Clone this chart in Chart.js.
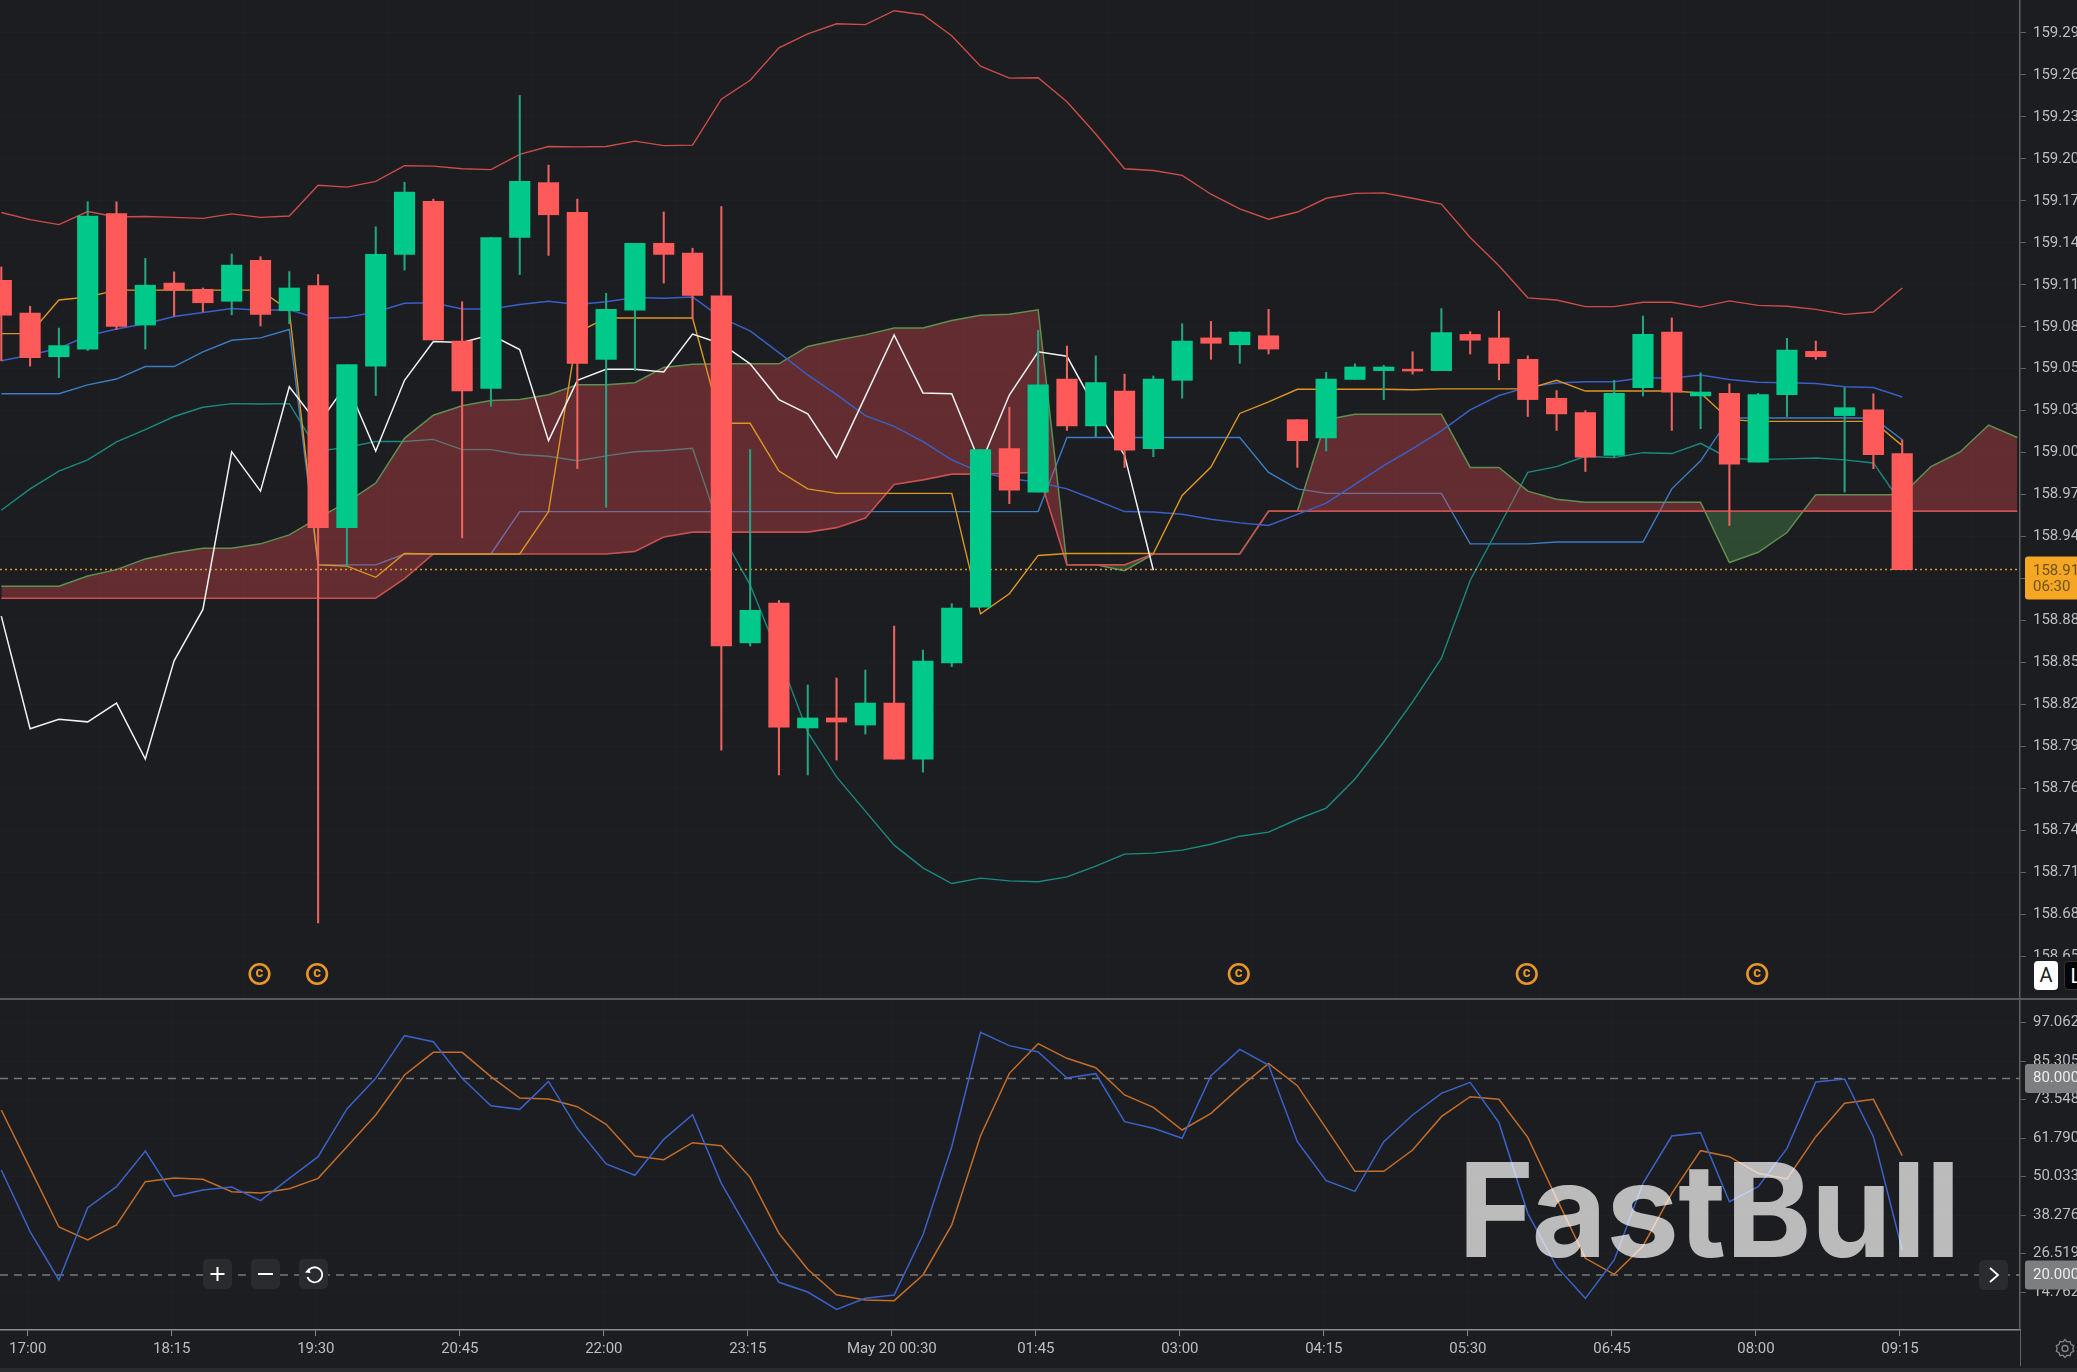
<!DOCTYPE html>
<html>
<head>
<meta charset="utf-8">
<title>USDJPY 15m</title>
<script src="https://cdn.jsdelivr.net/npm/chart.js@4"></script>
<style>
html, body { margin: 0; padding: 0; background: #1c1d21; overflow: hidden; }
#wrap { position: relative; width: 2077px; height: 1372px; overflow: hidden; font-family: Roboto, sans-serif; }
canvas { position: absolute; left: 0; }
#priceChart { top: 0; }
#stochChart { top: 999px; }
.divider { position: absolute; left: 0; top: 998px; width: 2077px; height: 2px; background: #58595d; }
.axisFoot { position: absolute; left: 2019.5px; top: 1330px; width: 1px; height: 36px; background: #5f6165; }
.strip { position: absolute; left: 0; top: 1368px; width: 2077px; height: 4px; background: #2a2b2f; }
.logo { position: absolute; left: 1458px; top: 1135px; font: 700 130px/150px Inter, sans-serif; letter-spacing: -0.7px; color: rgba(255,255,255,0.7); }
.btn { position: absolute; width: 29px; height: 30px; border-radius: 5px; background: #2a2b2f; }
.btn svg { position: absolute; left: 0; top: 0; }
.scaleBtn { position: absolute; top: 961px; width: 24px; height: 29px; border-radius: 4px; font-size: 20px; line-height: 29px; text-align: center; }
.gear { position: absolute; left: 2054px; top: 1337px; }
</style>
</head>
<body>
<div id="wrap">
  <canvas id="priceChart" width="2077" height="999"></canvas>
  <canvas id="stochChart" width="2077" height="369"></canvas>
  <div class="divider"></div>
  <div class="axisFoot"></div>
  <div class="strip"></div>
  <div class="logo">FastBull</div>
  <div class="scaleBtn" style="left:2034px;background:#fff;color:#222">A</div>
  <div class="scaleBtn" style="left:2064px;background:#050505;color:#fff;border:1px solid #333;box-sizing:border-box">L</div>
  <div class="btn" style="left:203px;top:1259px"><svg width="29" height="30"><path d="M14.5 8v14M7.5 15h14" stroke="#fff" stroke-width="2"/></svg></div>
  <div class="btn" style="left:251px;top:1259px"><svg width="29" height="30"><path d="M7 15h15" stroke="#fff" stroke-width="2"/></svg></div>
  <div class="btn" style="left:299px;top:1259px"><svg width="29" height="30"><path d="M9.5 11.5a7.5 7.5 0 1 1 -1 6.5" fill="none" stroke="#fff" stroke-width="1.8"/><path d="M6 13.5l5.5 0.5-1.5-5z" fill="#fff"/></svg></div>
  <div class="btn" style="left:1979px;top:1260px"><svg width="29" height="30"><path d="M11 8l8 7-8 7" fill="none" stroke="#fff" stroke-width="1.8"/></svg></div>
  <svg class="gear" width="22" height="22" viewBox="0 0 22 22"><path d="M11 2.5l2 2.4 3-.5 1 3 2.7 1.4-.9 2.9.9 2.6-2.7 1.5-1 2.9-3-.5-2 2.3-2-2.3-3 .5-1-2.9-2.7-1.5.9-2.6-.9-2.9 2.7-1.4 1-3 3 .5z" fill="none" stroke="#85878b" stroke-width="1.3"/><circle cx="11" cy="11.5" r="3" fill="none" stroke="#85878b" stroke-width="1.3"/></svg>
</div>
<script>
// candles, 15 min bars
var opens = [159.1191,159.0965,159.0663,159.0716,159.1653,159.0882,159.1172,159.1129,159.1046,159.1329,159.0981,159.1154,158.9482,159.0598,159.1370,159.1737,159.0771,159.0444,159.1487,159.1866,159.1660,159.0645,159.0984,159.1447,159.1379,159.1083,158.8686,158.8960,158.8098,158.8167,158.8118,158.8270,158.7883,158.8547,158.8932,159.0028,158.9728,159.0509,159.0185,159.0426,159.0028,159.0500,159.0793,159.0746,159.0808,159.0228,159.0102,159.0506,159.0567,159.0577,159.0567,159.0817,159.0793,159.0645,159.0376,159.0277,158.9981,159.0450,159.0833,159.0392,159.0410,158.9935,159.0401,159.0700,159.0256,159.0296,158.9994]
var highs = [159.1283,159.1012,159.0861,159.1734,159.1734,159.1342,159.1249,159.1138,159.1373,159.1354,159.1252,159.1231,159.0608,159.1561,159.1869,159.1752,159.1043,159.1487,159.2468,159.1987,159.1752,159.1101,159.1447,159.1663,159.1413,159.1700,159.0021,158.8979,158.8395,158.8443,158.8498,158.8802,158.8636,158.8957,159.0021,159.0314,159.0845,159.0737,159.0669,159.0543,159.0530,159.0891,159.0907,159.0836,159.0990,159.0228,159.0555,159.0614,159.0604,159.0697,159.0996,159.0836,159.0978,159.0669,159.0429,159.0290,159.0500,159.0944,159.0931,159.0552,159.0475,159.0410,159.0790,159.0771,159.0450,159.0407,159.0089]
var lows = [159.0635,159.0598,159.0518,159.0706,159.0851,159.0716,159.0944,159.0975,159.0953,159.0876,159.0891,158.6750,158.9216,159.0395,159.1262,159.0780,158.9411,159.0321,159.1231,159.1363,158.9889,158.9623,159.0567,159.1172,159.0931,158.7945,158.8664,158.7773,158.7773,158.7876,158.8056,158.7883,158.7793,158.8522,158.8932,158.9648,158.9728,159.0154,159.0111,158.9898,158.9972,159.0376,159.0645,159.0617,159.0682,158.9898,159.0012,159.0506,159.0367,159.0543,159.0567,159.0682,159.0503,159.0250,159.0154,158.9870,158.9966,159.0392,159.0154,159.0166,158.9497,158.9935,159.0250,159.0645,158.9728,158.9889,158.9192]
var closes = [159.0950,159.0657,159.0740,159.1635,159.0873,159.1157,159.1123,159.1036,159.1296,159.0956,159.1138,158.9482,159.0608,159.1370,159.1801,159.0780,159.0426,159.1487,159.1875,159.1644,159.0617,159.0990,159.1447,159.1370,159.1086,158.8664,158.8911,158.8104,158.8167,158.8139,158.8270,158.7883,158.8560,158.8927,159.0021,158.9741,159.0469,159.0185,159.0484,159.0018,159.0509,159.0771,159.0756,159.0833,159.0716,159.0083,159.0509,159.0592,159.0592,159.0564,159.0830,159.0777,159.0617,159.0367,159.0268,158.9969,159.0410,159.0817,159.0419,159.0419,158.9920,159.0401,159.0709,159.0663,159.0311,158.9987,158.9192]

// bollinger bands
var bbUpper = [159.1660,159.1610,159.1576,159.1666,159.1629,159.1632,159.1626,159.1619,159.1650,159.1626,159.1635,159.1848,159.1835,159.1875,159.1983,159.1980,159.1962,159.1956,159.2061,159.2116,159.2113,159.2116,159.2153,159.2122,159.2125,159.2443,159.2573,159.2798,159.2894,159.2964,159.2958,159.3054,159.3026,159.2881,159.2671,159.2588,159.2591,159.2425,159.2202,159.1962,159.1950,159.1916,159.1786,159.1684,159.1613,159.1663,159.1758,159.1792,159.1795,159.1758,159.1718,159.1487,159.1292,159.1070,159.1055,159.1009,159.1009,159.1039,159.1039,159.1006,159.1049,159.1018,159.1012,159.0990,159.0956,159.0972,159.1138]
var bbMid = [159.0635,159.0675,159.0722,159.0808,159.0854,159.0891,159.0941,159.0968,159.0996,159.0984,159.0987,159.0928,159.0935,159.0972,159.1033,159.1036,159.0993,159.0993,159.1024,159.1046,159.1024,159.1043,159.1073,159.1067,159.1076,159.0931,159.0842,159.0691,159.0537,159.0401,159.0256,159.0182,159.0077,158.9950,158.9864,158.9821,158.9796,158.9750,158.9673,158.9593,158.9590,158.9574,158.9540,158.9515,158.9497,158.9574,158.9651,158.9781,158.9910,159.0028,159.0151,159.0296,159.0395,159.0453,159.0481,159.0490,159.0490,159.0518,159.0515,159.0537,159.0506,159.0487,159.0484,159.0478,159.0456,159.0450,159.0385]
var bbLower = [158.9602,158.9750,158.9873,158.9950,159.0074,159.0160,159.0250,159.0314,159.0339,159.0336,159.0339,159.0012,159.0037,159.0077,159.0077,159.0092,159.0021,159.0021,158.9987,158.9975,158.9944,158.9978,159.0006,159.0015,159.0031,158.9441,158.9087,158.8593,158.8069,158.7760,158.7523,158.7288,158.7131,158.7023,158.7060,158.7041,158.7035,158.7069,158.7143,158.7226,158.7233,158.7254,158.7294,158.7350,158.7378,158.7467,158.7544,158.7745,158.8001,158.8278,158.8578,158.9117,158.9488,158.9864,158.9904,158.9975,158.9966,159.0000,158.9994,159.0065,158.9960,158.9953,158.9957,158.9963,158.9950,158.9929,158.9642]

// ichimoku
var tenkan = [159.0823,159.0823,159.1055,159.1076,159.1123,159.1123,159.1123,159.1123,159.1123,159.1123,159.0981,158.9225,158.9216,158.9139,158.9303,158.9300,158.9300,158.9300,158.9300,158.9593,159.0830,159.0931,159.0931,159.0931,159.0931,159.0203,159.0203,158.9873,158.9750,158.9719,158.9719,158.9719,158.9719,158.9719,158.8886,158.9025,158.9290,158.9303,158.9303,158.9303,158.9303,158.9704,158.9901,159.0271,159.0351,159.0438,159.0438,159.0438,159.0438,159.0435,159.0441,159.0441,159.0441,159.0441,159.0500,159.0426,159.0426,159.0426,159.0426,159.0413,159.0228,159.0216,159.0216,159.0216,159.0216,159.0216,159.0049]
var kijun = [159.0407,159.0407,159.0407,159.0469,159.0509,159.0595,159.0595,159.0697,159.0777,159.0793,159.0851,158.9225,158.9225,158.9225,158.9300,158.9300,158.9300,158.9300,158.9593,158.9593,158.9593,158.9593,158.9593,158.9593,158.9593,158.9593,158.9593,158.9593,158.9593,158.9593,158.9593,158.9593,158.9593,158.9593,158.9593,158.9593,158.9593,159.0105,159.0105,159.0105,159.0105,159.0105,159.0105,159.0105,158.9864,158.9750,158.9719,158.9719,158.9719,158.9719,158.9719,158.9370,158.9370,158.9370,158.9383,158.9383,158.9383,158.9383,158.9750,158.9944,159.0240,159.0240,159.0240,159.0240,159.0240,159.0240,159.0089]
var chikou = [158.8871,158.8093,158.8158,158.8140,158.8269,158.7883,158.8562,158.8917,159.0006,158.9734,159.0456,159.0197,159.0475,159.0012,159.0500,159.0768,159.0762,159.0814,159.0712,159.0083,159.0500,159.0577,159.0577,159.0558,159.0820,159.0753,159.0614,159.0367,159.0268,158.9966,159.0389,159.0814,159.0413,159.0407,158.9920,159.0398,159.0697,159.0666,159.0305,158.9981,158.9188]
var spanA = [158.9077,158.9077,158.9077,158.9148,158.9192,158.9266,158.9309,158.9340,158.9340,158.9370,158.9432,158.9549,158.9657,158.9790,159.0099,159.0259,159.0324,159.0361,159.0367,159.0401,159.0469,159.0469,159.0484,159.0589,159.0611,159.0614,159.0614,159.0614,159.0734,159.0777,159.0814,159.0861,159.0861,159.0913,159.0950,159.0956,159.0987,158.9225,158.9225,158.9185,158.9300,158.9300,158.9300,158.9300,158.9596,158.9596,159.0228,159.0265,159.0265,159.0265,159.0265,158.9898,158.9898,158.9734,158.9679,158.9657,158.9657,158.9657,158.9657,158.9657,158.9241,158.9312,158.9448,158.9710,158.9710,158.9710,158.9710,158.9904,159.0003,159.0191,159.0105]
var spanB = [158.8994,158.8994,158.8994,158.8994,158.8994,158.8994,158.8994,158.8994,158.8994,158.8994,158.8994,158.8994,158.8994,158.8994,158.9130,158.9300,158.9300,158.9300,158.9300,158.9300,158.9300,158.9300,158.9318,158.9417,158.9451,158.9451,158.9451,158.9451,158.9451,158.9482,158.9549,158.9781,158.9812,158.9852,158.9852,158.9858,158.9864,158.9225,158.9225,158.9225,158.9300,158.9300,158.9300,158.9300,158.9596,158.9596,158.9596,158.9596,158.9596,158.9596,158.9596,158.9596,158.9596,158.9596,158.9596,158.9596,158.9596,158.9596,158.9596,158.9596,158.9596,158.9596,158.9596,158.9596,158.9596,158.9596,158.9596,158.9596,158.9596,158.9596,158.9596]

// stochastic pane
var stochK = [52.08,33.24,18.48,40.57,46.99,57.88,44.03,45.97,46.89,42.71,49.53,56.15,70.71,80.07,93.10,91.27,80.07,71.72,70.60,79.15,64.80,53.91,50.45,61.44,68.97,48.00,32.73,17.77,14.82,9.52,12.88,13.90,32.22,59.20,94.12,90.05,88.11,80.17,81.50,66.84,64.80,61.75,80.89,88.93,84.14,60.73,48.82,45.56,60.73,68.87,75.49,78.85,66.53,38.84,22.55,12.88,24.59,48.00,62.46,63.48,42.40,46.99,58.69,78.95,79.87,62.26,27.65]
var stochD = [70.40,52.58,34.67,30.70,35.28,48.51,49.63,49.22,45.46,45.05,46.38,49.53,59.20,68.87,81.09,88.01,88.01,80.58,74.07,73.76,71.42,66.02,56.35,55.23,60.42,59.51,49.84,32.73,21.74,13.99,12.37,12.17,20.01,35.28,62.56,81.60,90.66,86.18,83.33,75.00,71.21,64.29,69.38,77.32,84.65,77.83,64.80,51.67,51.67,58.19,68.37,74.47,73.66,62.05,43.42,25.10,20.21,28.87,44.95,57.98,56.15,51.06,49.33,62.26,72.44,73.66,56.45]
var stochLevels = [80, 20]

// axis labels
var priceTicks = [159.29,159.261,159.232,159.203,159.174,159.145,159.116,159.087,159.058,159.029,159.0,158.971,158.942,158.913,158.884,158.855,158.826,158.797,158.768,158.739,158.71,158.681,158.652]
var priceTickLabels = ['159.29','159.26','159.23','159.20','159.17','159.14','159.11','159.08','159.05','159.03','159.00','158.97','158.94','158.91','158.88','158.85','158.82','158.79','158.76','158.74','158.71','158.68','158.65']
var stochTicks = [97.062,85.305,73.548,61.79,50.033,38.276,26.519,14.762]
var timeTickBars = [1,6,11,16,21,26,31,36,41,46,51,56,61,66]
var timeLabels = ['17:00','18:15','19:30','20:45','22:00','23:15','May 20 00:30','01:45','03:00','04:15','05:30','06:45','08:00','09:15']
var dividendBars = [9,11,43,53,61]
var countdown = '06:30'

var GREEN = '#00c98a', RED = '#ff5a5a'
var TEXT = '#bcbec2', GRID = '#1f2024', AXIS = '#5f6165'
var BG = '#1c1d21'
var xMin = -0.045, xMax = 70.09

function toPoints(values) {
    return values.map(function (v, i) { return { x: i, y: v } })
}

function lineSet(values, color, order, width) {
    return {
        type: 'line',
        data: toPoints(values),
        borderColor: color,
        borderWidth: width || 1.4,
        pointRadius: 0,
        tension: 0,
        fill: false,
        order: order
    }
}

// horizontal level across the whole pane
function levelSet(value, color, order, dash) {
    return {
        type: 'line',
        data: [{ x: xMin, y: value }, { x: xMax, y: value }],
        borderColor: color,
        borderWidth: 1.5,
        borderDash: dash,
        pointRadius: 0,
        order: order
    }
}

function timeGridTicks(scale) {
    scale.ticks = timeTickBars.map(function (b) { return { value: b - 0.08 } })
}

// labels may run to the pane edges, no inset for them
function fitValueAxis(scale) {
    scale.width = 57
    scale.paddingTop = 0
    scale.paddingBottom = 0
}

function candleColor(ctx, up, down) {
    var i = ctx.dataIndex
    return closes[i] >= opens[i] ? up : down
}

function drawTag(ctx, top, height, color, textColor, rows) {
    var x = 2025
    ctx.save()
    ctx.fillStyle = color
    ctx.beginPath()
    ctx.roundRect(x, top, 60, height, 3)
    ctx.fill()
    ctx.fillStyle = textColor
    ctx.font = '15px Roboto'
    ctx.textBaseline = 'middle'
    ctx.textAlign = 'left'
    rows.forEach(function (r) { ctx.fillText(r.text, 2033, top + r.dy) })
    ctx.restore()
}

var priceOverlay = {
    id: 'priceOverlay',
    afterDraw: function (chart) {
        var ctx = chart.ctx
        var last = closes[closes.length - 1]
        var y = chart.scales.y.getPixelForValue(last)

        // the pane cuts off the lowest tick label
        ctx.fillStyle = BG
        ctx.fillRect(2021, 957, 56, 42)

        drawTag(ctx, y - 13, 43, '#f5a623', '#6e5216', [
            { text: String(last).slice(0, 6), dy: 15 },
            { text: countdown, dy: 31 }
        ])

        dividendBars.forEach(function (b) {
            var x = chart.scales.x.getPixelForValue(b) - 1
            ctx.save()
            ctx.strokeStyle = '#e8962a'
            ctx.lineWidth = 2.6
            ctx.beginPath()
            ctx.arc(x, 974, 9.8, 0, Math.PI * 2)
            ctx.stroke()
            ctx.fillStyle = '#e8962a'
            ctx.font = 'bold 15px Roboto'
            ctx.textAlign = 'center'
            ctx.textBaseline = 'middle'
            ctx.fillText('c', x, 973)
            ctx.restore()
        })
    }
}

var stochOverlay = {
    id: 'stochOverlay',
    afterDraw: function (chart) {
        stochLevels.forEach(function (level) {
            var y = chart.scales.y.getPixelForValue(level)
            drawTag(chart.ctx, y - 14.5, 29, '#7d7e80', '#ececec', [
                { text: level.toFixed(3), dy: 14.5 }
            ])
        })
    }
}

var priceChart = new Chart(document.getElementById('priceChart'), {
    type: 'bar',
    data: {
        datasets: [
            {
                data: opens.map(function (o, i) { return { x: i, y: [o, closes[i]] } }),
                barThickness: 20.5,
                grouped: false,
                backgroundColor: function (ctx) { return candleColor(ctx, GREEN, RED) },
                order: 0
            },
            {
                data: highs.map(function (h, i) { return { x: i, y: [lows[i], h] } }),
                barThickness: 1.4,
                grouped: false,
                backgroundColor: function (ctx) { return candleColor(ctx, '#23a583', '#f0625f') },
                order: 1
            },
            lineSet(chikou, '#f2f2f2', 2, 1.5),
            lineSet(tenkan, '#dd961f', 3),
            lineSet(bbMid, '#3a5fc8', 4, 1.5),
            lineSet(bbUpper, '#cc4c48', 5),
            levelSet(closes[closes.length - 1], '#d9962a', 6, [2, 3]),
            lineSet(spanB, '#c9504f', 7, 1.6),
            Object.assign(lineSet(spanA, '#5f8f50', 8, 1.5), {
                fill: { target: 7, above: 'rgba(228,75,79,0.35)', below: 'rgba(90,180,90,0.3)' }
            }),
            lineSet(bbLower, '#1a8a80', 9),
            lineSet(kijun, '#3a7dc4', 10)
        ]
    },
    options: {
        responsive: false,
        animation: false,
        devicePixelRatio: 1,
        events: [],
        layout: { padding: 0 },
        plugins: { legend: { display: false }, tooltip: { enabled: false } },
        scales: {
            x: {
                type: 'linear',
                offset: false,
                min: xMin,
                max: xMax,
                afterBuildTicks: timeGridTicks,
                afterFit: function (scale) { scale.height = 0 },
                border: { display: false },
                grid: { color: GRID, drawTicks: false },
                ticks: { display: false }
            },
            y: {
                position: 'right',
                min: 158.6225,
                max: 159.3128,
                afterBuildTicks: function (scale) {
                    scale.ticks = priceTicks.map(function (v) { return { value: v } })
                },
                afterFit: fitValueAxis,
                border: { color: AXIS, width: 1.5 },
                grid: { color: GRID, tickColor: AXIS, tickLength: 6 },
                ticks: {
                    color: TEXT,
                    padding: 7,
                    font: { family: 'Roboto', size: 15 },
                    callback: function (value, index) { return priceTickLabels[index] }
                }
            }
        }
    },
    plugins: [priceOverlay]
})

var stochChart = new Chart(document.getElementById('stochChart'), {
    type: 'line',
    data: {
        datasets: [
            lineSet(stochK, '#3a62c9', 0, 1.5),
            lineSet(stochD, '#c46d28', 1, 1.5),
            levelSet(stochLevels[0], '#77787c', 2, [8, 6]),
            levelSet(stochLevels[1], '#77787c', 3, [8, 6])
        ]
    },
    options: {
        responsive: false,
        animation: false,
        devicePixelRatio: 1,
        events: [],
        layout: { padding: 0 },
        plugins: { legend: { display: false }, tooltip: { enabled: false } },
        scales: {
            x: {
                type: 'linear',
                min: xMin,
                max: xMax,
                afterBuildTicks: timeGridTicks,
                afterFit: function (scale) { scale.height = 38 },
                border: { color: '#8a8b8f', width: 1.5 },
                grid: { color: GRID, tickColor: '#8a8b8f', tickLength: 6 },
                ticks: {
                    color: TEXT,
                    padding: 4,
                    maxRotation: 0,
                    autoSkip: false,
                    font: { family: 'Roboto', size: 15 },
                    callback: function (value, index) { return timeLabels[index] }
                }
            },
            y: {
                position: 'right',
                min: 3.21,
                max: 104.3,
                afterBuildTicks: function (scale) {
                    scale.ticks = stochTicks.map(function (v) { return { value: v } })
                },
                afterFit: fitValueAxis,
                border: { color: AXIS, width: 1.5 },
                grid: { color: GRID, tickColor: AXIS, tickLength: 6 },
                ticks: {
                    color: TEXT,
                    padding: 7,
                    font: { family: 'Roboto', size: 15 },
                    callback: function (value) { return value.toFixed(3) }
                }
            }
        }
    },
    plugins: [stochOverlay]
})
</script>
</body>
</html>
